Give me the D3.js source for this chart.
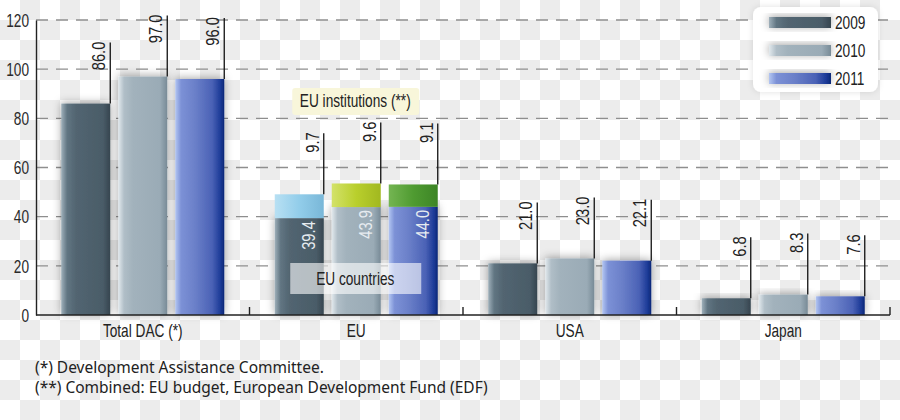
<!DOCTYPE html>
<html>
<head>
<meta charset="utf-8">
<script src="https://cdn.jsdelivr.net/npm/d3@7"></script>
<style>
  html, body { margin: 0; padding: 0; background: #fff; }
  svg { display: block; }
  .cond { font-family: "Liberation Sans", Arial, sans-serif; }
</style>
</head>
<body>
<svg id="chart" width="900" height="420"></svg>
<script>
// ---- data ----
const categories = ["Total DAC (*)", "EU", "USA", "Japan"];
const years = ["2009", "2010", "2011"];
const totalDAC = [86.0, 97.0, 96.0];
const euCountries = [39.4, 43.9, 44.0];
const euInstitutions = [9.7, 9.6, 9.1];
const usa = [21.0, 23.0, 22.1];
const japan = [6.8, 8.3, 7.6];
const yTicks = [0, 20, 40, 60, 80, 100, 120];
const footnotes = ["(*) Development Assistance Committee.", "(**) Combined: EU budget, European Development Fund (EDF)"];
const annotationInstitutions = "EU institutions (**)";
const annotationCountries = "EU countries";

// ---- build table ----
const rows = [];
categories.forEach((cat, ci) => {
  years.forEach((yr, yi) => {
    if (cat === "EU") {
      rows.push({cat, yr, yi, base: euCountries[yi], top: euInstitutions[yi], label: euInstitutions[yi], stacked: true});
    } else {
      const v = [totalDAC, null, usa, japan][ci][yi];
      rows.push({cat, yr, yi, base: v, top: 0, label: v, stacked: false});
    }
  });
});

const svg = d3.select("#chart");
const W = 900, H = 420;
const FS = 18, SX = 0.76;   // condensed-look text: font size and horizontal squeeze
const defs = svg.append("defs");

// checkerboard background
const pat = defs.append("pattern").attr("id", "checker").attr("patternUnits", "userSpaceOnUse")
  .attr("width", 40).attr("height", 40);
pat.append("rect").attr("width", 40).attr("height", 40).attr("fill", "#ffffff");
pat.append("rect").attr("x", 20).attr("y", 0).attr("width", 20).attr("height", 20).attr("fill", "#ececec");
pat.append("rect").attr("x", 0).attr("y", 20).attr("width", 20).attr("height", 20).attr("fill", "#ececec");
svg.append("rect").attr("width", W).attr("height", H).attr("fill", "url(#checker)");

// gradients
function hGrad(id, stops) {
  const g = defs.append("linearGradient").attr("id", id).attr("x1", "0%").attr("x2", "100%").attr("y1", "0%").attr("y2", "0%");
  stops.forEach(s => g.append("stop").attr("offset", s[0]).attr("stop-color", s[1]));
}
hGrad("g2009", [[0, "#9fb0ba"], [0.12, "#617582"], [0.3, "#526571"], [0.85, "#4a5c68"], [1, "#36454f"]]);
hGrad("g2010", [[0, "#e2e9ed"], [0.12, "#b0bec7"], [0.3, "#a2b2bc"], [0.85, "#9aabb6"], [1, "#788b97"]]);
hGrad("g2011", [[0, "#b3c6f2"], [0.12, "#7c91d6"], [0.4, "#6b80c9"], [0.75, "#4b62b6"], [0.92, "#1d3b98"], [1, "#0a2877"]]);
hGrad("t2009", [[0, "#b8e0f3"], [0.5, "#92cdea"], [1, "#79b7d8"]]);
hGrad("t2010", [[0, "#d3e26a"], [0.5, "#b9cf2c"], [1, "#a1b820"]]);
hGrad("t2011", [[0, "#74b552"], [0.5, "#4f9b31"], [1, "#3d8526"]]);

const sh = defs.append("filter").attr("id", "shadow").attr("x", "-30%").attr("y", "-30%").attr("width", "160%").attr("height", "160%");
sh.append("feDropShadow").attr("dx", 0).attr("dy", -1).attr("stdDeviation", 4).attr("flood-color", "#000").attr("flood-opacity", 0.35);
const glow = defs.append("filter").attr("id", "glow").attr("x", "-20%").attr("y", "-20%").attr("width", "140%").attr("height", "140%");
glow.append("feDropShadow").attr("dx", 0).attr("dy", 0).attr("stdDeviation", 3).attr("flood-color", "#000").attr("flood-opacity", 0.12);

// scales
const x0 = d3.scaleBand().domain(categories).range([36, 890]).padding(0);
const x1 = d3.scaleBand().domain(years).range([0, 163]).paddingInner(8 / 57).paddingOuter(0);
const innerOffset = (x0.bandwidth() - 163) / 2;
const y = d3.scaleLinear().domain([0, 120]).range([315, 20]);
const barX = d => x0(d.cat) + innerOffset + x1(d.yr);
const bw = x1.bandwidth();

// gridlines
const grid = svg.append("g");
grid.selectAll("line").data(yTicks.filter(t => t > 0)).join("line")
  .attr("x1", 36).attr("x2", 890).attr("y1", d => y(d)).attr("y2", d => y(d))
  .attr("stroke", "#8e8e8e").attr("stroke-width", 1.4).attr("stroke-dasharray", "12,8");

// y axis
const yAxis = svg.append("g").attr("transform", "translate(36,0)")
  .call(d3.axisLeft(y).tickValues(yTicks).tickSize(0).tickPadding(7));
yAxis.select(".domain").attr("stroke", "#222").attr("stroke-width", 1.4);
yAxis.selectAll(".tick text").attr("class", "cond").attr("font-size", FS).attr("fill", "#2a2a2a")
  .attr("x", 0).attr("dy", "0.35em")
  .attr("transform", `translate(-7,0) scale(${SX},1)`);

// EU institutions label box
const euCenter = x0("EU") + x0.bandwidth() / 2;
svg.append("rect").attr("x", euCenter - 64).attr("y", 88).attr("width", 127).attr("height", 27).attr("rx", 3)
  .attr("fill", "#f8f6da");
svg.append("text").attr("class", "cond")
  .attr("transform", `translate(${euCenter - 1},107) scale(${SX},1)`).attr("text-anchor", "middle")
  .attr("font-size", FS).attr("fill", "#222").text(annotationInstitutions);

// bars
const bars = svg.append("g");
bars.selectAll("rect.base").data(rows).join("rect").attr("class", "base")
  .attr("x", barX).attr("width", bw)
  .attr("y", d => y(d.base)).attr("height", d => y(0) - y(d.base))
  .attr("fill", d => `url(#g${d.yr})`).attr("filter", "url(#shadow)");
bars.selectAll("rect.top").data(rows.filter(d => d.stacked)).join("rect").attr("class", "top")
  .attr("x", barX).attr("width", bw)
  .attr("y", d => y(d.base + d.top)).attr("height", d => y(d.base) - y(d.base + d.top))
  .attr("fill", d => `url(#t${d.yr})`);

// leader lines + value labels
const ann = svg.append("g");
ann.selectAll("line").data(rows).join("line")
  .attr("x1", d => barX(d) + bw).attr("x2", d => barX(d) + bw)
  .attr("y1", d => y(d.base + d.top)).attr("y2", d => y(d.base + d.top) - 61)
  .attr("stroke", "#111").attr("stroke-width", 1.3);
ann.selectAll("text").data(rows).join("text").attr("class", "cond")
  .attr("transform", d => `translate(${barX(d) + bw - 5},${y(d.base + d.top) - 62}) rotate(-90) scale(0.82,1)`)
  .attr("text-anchor", "end").attr("font-size", FS).attr("fill", "#222")
  .text(d => d.label.toFixed(1));

// inner EU countries labels
svg.append("g").selectAll("text").data(rows.filter(d => d.stacked)).join("text").attr("class", "cond")
  .attr("transform", d => `translate(${barX(d) + bw - 9},${y(d.base) + 3}) rotate(-90) scale(0.82,1)`)
  .attr("text-anchor", "end").attr("font-size", FS).attr("fill", "#e6ebf0")
  .text(d => d.base.toFixed(1));

// EU countries box
svg.append("rect").attr("x", euCenter - 66).attr("y", 263).attr("width", 131).attr("height", 31)
  .attr("fill", "#ffffff").attr("fill-opacity", 0.6);
svg.append("text").attr("class", "cond")
  .attr("transform", `translate(${euCenter - 1},285) scale(${SX},1)`).attr("text-anchor", "middle")
  .attr("font-size", FS).attr("fill", "#222").text(annotationCountries);

// x axis
const xa = svg.append("g");
xa.append("line").attr("x1", 36).attr("x2", 890).attr("y1", y(0)).attr("y2", y(0)).attr("stroke", "#222").attr("stroke-width", 1.4);
xa.selectAll("line.tk").data(categories.slice(1).map(c => x0(c)).concat([x0(categories[3]) + x0.bandwidth()])).join("line").attr("class", "tk")
  .attr("x1", d => d).attr("x2", d => d).attr("y1", y(0)).attr("y2", y(0) - 8).attr("stroke", "#222").attr("stroke-width", 1.4);
xa.selectAll("text").data(categories).join("text").attr("class", "cond")
  .attr("transform", d => `translate(${x0(d) + x0.bandwidth() / 2},337) scale(${SX},1)`).attr("text-anchor", "middle")
  .attr("font-size", FS).attr("fill", "#222").text(d => d);

// legend
const lg = svg.append("g");
lg.append("rect").attr("x", 753).attr("y", 7).attr("width", 125).attr("height", 85).attr("rx", 8)
  .attr("fill", "#fff").attr("filter", "url(#glow)");
years.forEach((yr, i) => {
  lg.append("rect").attr("x", 769).attr("y", 17 + i * 28).attr("width", 62).attr("height", 11)
    .attr("fill", `url(#g${yr})`).attr("filter", "url(#shadow)");
  lg.append("text").attr("class", "cond").attr("transform", `translate(835,${29 + i * 28}) scale(${SX},1)`)
    .attr("font-size", FS).attr("fill", "#222").text(yr);
});

// footnotes
svg.append("g").selectAll("text").data(footnotes).join("text")
  .attr("x", 35).attr("y", (d, i) => 373 + i * 20)
  .attr("font-family", "'Noto Sans', 'Open Sans', sans-serif").attr("font-size", 15.5).attr("fill", "#222")
  .text(d => d);
</script>
</body>
</html>
